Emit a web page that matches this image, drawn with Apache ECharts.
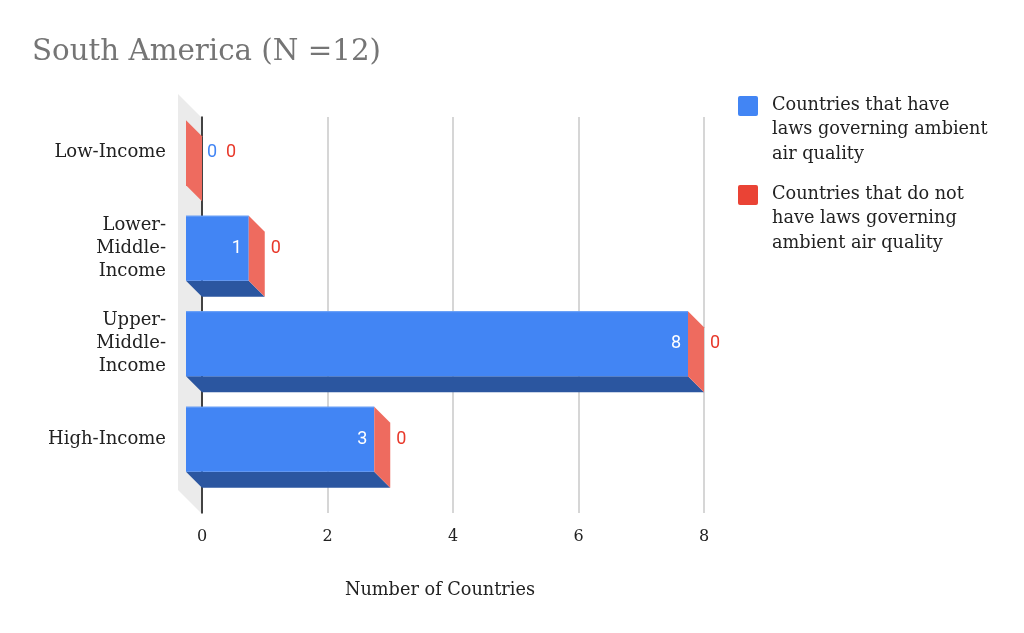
<!DOCTYPE html>
<html>
<head>
<meta charset="utf-8">
<title>South America (N =12)</title>
<script src="https://cdn.jsdelivr.net/npm/echarts@6/dist/echarts.min.js"></script>
<style>
  html, body { margin: 0; padding: 0; background: #fff; }
  #main { width: 1024px; height: 633px; }
</style>
</head>
<body>
<div id="main"></div>
<script>
const categories = ['Low-Income', 'Lower-\nMiddle-\nIncome', 'Upper-\nMiddle-\nIncome', 'High-Income'];
const withLaws = [0, 1, 8, 3];
const withoutLaws = [0, 0, 0, 0];
const seriesNames = [
  'Countries that have\nlaws governing ambient\nair quality',
  'Countries that do not\nhave laws governing\nambient air quality'
];
const xMin = 0, xMax = 8, xStep = 2;

const SERIF = 'DejaVu Serif';
const BLUE = '#4285f4', BLUE_DARK = '#2b56a0';
const RED = '#ea4335', RED_SIDE = '#ee6b5f', RED_TEXT = '#e8382a';
const D = 16;   // depth of the 3d bars

const myCharts = echarts.init(document.querySelector('#main'));

function barBox(api, i) {
  const p0 = api.coord([0, i]);
  const h = api.size([0, 1])[1] * 0.68;
  return { x0: p0[0], yc: p0[1], tb: p0[1] - h / 2, bb: p0[1] + h / 2, h: h };
}

function renderBlue(params, api) {
  const i = api.value(0), v = api.value(1);
  const b = barBox(api, i);
  const xe = api.coord([v, i])[0];
  const kids = [];
  if (v > 0) {
    kids.push({ type: 'polygon', shape: { points: [[b.x0 - D, b.bb - D], [xe - D, b.bb - D], [xe, b.bb], [b.x0, b.bb]] }, style: { fill: BLUE_DARK } });
    kids.push({ type: 'rect', shape: { x: b.x0 - D, y: b.tb - D, width: xe - b.x0, height: b.h }, style: { fill: BLUE } });
    kids.push({ type: 'rect', shape: { x: b.x0 - D, y: b.tb - D, width: xe - b.x0, height: 1 }, style: { fill: '#6aa0f7' } });
    kids.push({ type: 'text', style: { text: String(v), x: xe - D - 7, y: b.yc - D, align: 'right', verticalAlign: 'middle', fill: '#fff', font: '18px Roboto' } });
  } else {
    kids.push({ type: 'text', style: { text: String(v), x: b.x0 + 5, y: b.yc - D, align: 'left', verticalAlign: 'middle', fill: BLUE, font: '18px Roboto' } });
  }
  return { type: 'group', children: kids };
}

function renderRed(params, api) {
  const i = api.value(0), bv = api.value(1), v = api.value(2);
  const b = barBox(api, i);
  const xs = api.coord([bv, i])[0];
  const xe = api.coord([bv + v, i])[0];
  const kids = [];
  if (v > 0) {
    kids.push({ type: 'polygon', shape: { points: [[xs - D, b.bb - D], [xe - D, b.bb - D], [xe, b.bb], [xs, b.bb]] }, style: { fill: '#b03a30' } });
    kids.push({ type: 'rect', shape: { x: xs - D, y: b.tb - D, width: xe - xs, height: b.h }, style: { fill: RED } });
  }
  kids.push({ type: 'polygon', shape: { points: [[xe - D, b.tb - D], [xe, b.tb], [xe, b.bb], [xe - D, b.bb - D]] }, style: { fill: RED_SIDE } });
  const lx = bv > 0 ? xe + 6 : xe + 24;
  kids.push({ type: 'text', style: { text: String(v), x: lx, y: b.yc - D, align: 'left', verticalAlign: 'middle', fill: RED_TEXT, font: '18px Roboto' } });
  return { type: 'group', children: kids };
}

const blueData = categories.map((c, i) => [i, withLaws[i]]);
const redData = categories.map((c, i) => [i, withLaws[i], withoutLaws[i]]);

const option = {
  animation: false,
  title: {
    text: 'South America (N =12)',
    left: 27,
    top: 33,
    textStyle: { fontFamily: SERIF, fontSize: 29.3, fontWeight: 'normal', color: '#757575' }
  },
  grid: [
    { left: 202, right: 320, top: 121, bottom: 130 },   // bars (back plane)
    { left: 202, right: 320, top: 117, bottom: 120 },   // frame, gridlines, ticks
    { left: 202, right: 320, top: 105, bottom: 146 }    // category labels (front plane)
  ],
  xAxis: [
    { gridIndex: 0, type: 'value', min: xMin, max: xMax, show: false },
    {
      gridIndex: 1, type: 'value', min: xMin, max: xMax, interval: xStep,
      axisLine: { show: false }, axisTick: { show: false },
      splitLine: { lineStyle: { color: '#c8c8c8', width: 1.5 } },
      axisLabel: { margin: 16, fontFamily: SERIF, fontSize: 16, color: '#222' },
      name: 'Number of Countries', nameLocation: 'middle', nameGap: 68,
      nameTextStyle: { fontFamily: SERIF, fontSize: 17.7, color: '#222', padding: [0, 26, 0, 0] }
    },
    { gridIndex: 2, type: 'value', min: xMin, max: xMax, show: false }
  ],
  yAxis: [
    { gridIndex: 0, type: 'category', data: categories, inverse: true, show: false },
    {
      gridIndex: 1, type: 'value', min: 0, max: 1,
      axisLine: { show: true, lineStyle: { color: '#111', width: 1.5 } },
      axisTick: { show: false }, axisLabel: { show: false }, splitLine: { show: false }
    },
    {
      gridIndex: 2, type: 'category', data: categories, inverse: true,
      axisLine: { show: false }, axisTick: { show: false }, splitLine: { show: false },
      axisLabel: { margin: 36, fontFamily: SERIF, fontSize: 18, lineHeight: 23, color: '#222', align: 'right' }
    }
  ],
  graphic: [
    { type: 'polygon', z: 0, shape: { points: [[178, 94], [201, 117], [201, 513], [178, 490]] }, style: { fill: '#ebebeb' } },
    { type: 'rect', shape: { x: 738, y: 96, width: 20, height: 20, r: 2 }, style: { fill: BLUE } },
    { type: 'text', left: 772, top: 93, style: { text: seriesNames[0], font: '17.7px ' + SERIF, lineHeight: 24.5, fill: '#222' } },
    { type: 'rect', shape: { x: 738, y: 185, width: 20, height: 20, r: 2 }, style: { fill: RED } },
    { type: 'text', left: 772, top: 182, style: { text: seriesNames[1], font: '17.7px ' + SERIF, lineHeight: 24.5, fill: '#222' } }
  ],
  series: [
    { name: seriesNames[0], type: 'custom', xAxisIndex: 0, yAxisIndex: 0, z: 5, renderItem: renderBlue, encode: { x: 1, y: 0 }, data: blueData },
    { name: seriesNames[1], type: 'custom', xAxisIndex: 0, yAxisIndex: 0, z: 5, renderItem: renderRed, encode: { x: [1, 2], y: 0 }, data: redData }
  ]
};

myCharts.setOption(option);
</script>
</body>
</html>
